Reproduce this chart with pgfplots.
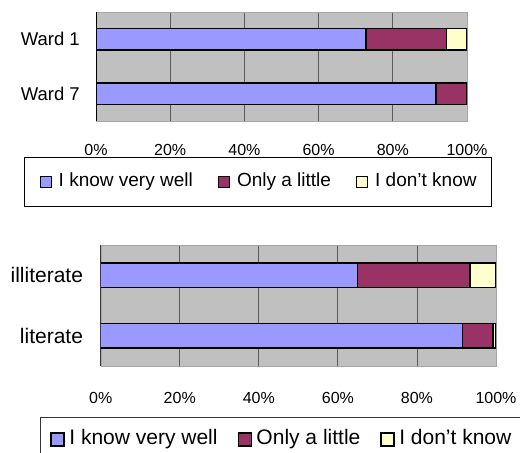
\documentclass[border=0pt]{standalone}
\usepackage{pgfplots}
\pgfplotsset{compat=1.18}
\usepackage{fontspec}
\setmainfont{Liberation Sans}

\definecolor{wellc}{RGB}{153,153,255}
\definecolor{littlec}{RGB}{153,51,102}
\definecolor{dontc}{RGB}{255,255,204}
\definecolor{plotbg}{RGB}{192,192,192}
\definecolor{gridc}{RGB}{90,90,90}

\pgfplotsset{
  surveybars/.style={
    xbar stacked,
    scale only axis,
    xmin=0, xmax=100,
    ymin=-0.5, ymax=1.5,
    bar width=0.4,
    axis background/.style={fill=plotbg},
    axis line style={draw=gray!70},
    xtick={0,20,40,60,80,100},
    xticklabels={0\%,20\%,40\%,60\%,80\%,100\%},
    xmajorgrids,
    major grid style={draw=gridc, line width=0.8bp},
    xtick style={draw=none},
    ytick={0,1},
    ytick style={draw=none},
    minor ytick={0.5},
    minor tick style={draw=black, line width=0.8bp},
    minor tick length=5bp,
    ytick pos=left,
    tick align=inside,
    /pgf/number format/assume math mode=true,
    tick label style={inner sep=0bp},
    xticklabel style={font=\fontsize{16bp}{19bp}\selectfont, anchor=north},
    legend columns=3,
    legend cell align=left,
    every axis plot post/.append style={draw=black, line width=1.5bp},
  },
  sq/.style={
    draw=black, line width=1.5bp,
    legend image code/.code={%
      \draw[##1, draw=black, line width=1.2bp] (0bp,-5.5bp) rectangle (11bp,5.5bp);}
  },
  sqb/.style={
    draw=black, line width=1.5bp,
    legend image code/.code={%
      \draw[##1, draw=black, line width=1.4bp] (0bp,-6.5bp) rectangle (13bp,6.5bp);}
  },
}

\begin{document}
\begin{tikzpicture}
\path[use as bounding box] (0,0) rectangle (520bp,453bp);
\clip (0,0) rectangle (520bp,453bp);

% Ward comparison
\begin{axis}[
  surveybars,
  at={(96bp,441bp)}, anchor=north west,
  width=371bp, height=109bp,
  yticklabels={Ward 7, Ward 1},
  yticklabel style={font=\fontsize{18.5bp}{22bp}\selectfont, anchor=east, xshift=-16bp},
  xticklabel style={yshift=-23bp},
  legend style={
    at={(axis description cs:-0.194,-0.33)}, anchor=north west,
    draw=black, line width=1bp, fill=white,
    inner xsep=15bp, inner ysep=15.5bp,
    font=\fontsize{19bp}{23bp}\selectfont,
    nodes={inner sep=0bp, text height=14bp, text depth=4bp},
    /tikz/every odd column/.append style={column sep=7bp},
    /tikz/every even column/.append style={column sep=25bp},
  },
]
\addplot[sq, fill=wellc]   coordinates {(72.8,1) (91.6,0)};
\addplot[sq, fill=littlec] coordinates {(21.7,1) (8.4,0)};
\addplot[sq, fill=dontc]   coordinates {(5.5,1) (0,0)};
\legend{I know very well, Only a little, I don't know}
\draw[black, line width=1bp] (rel axis cs:0,0) -- (rel axis cs:0,1);
\end{axis}

% Literacy comparison
\begin{axis}[
  surveybars,
  at={(100.7bp,208bp)}, anchor=north west,
  width=395.3bp, height=121bp,
  yticklabels={literate, illiterate},
  yticklabel style={font=\fontsize{21bp}{25bp}\selectfont, anchor=east, xshift=-17.5bp},
  xticklabel style={yshift=-26bp},
  legend style={
    at={(axis description cs:-0.1536,-0.4215)}, anchor=north west,
    draw=gray!40!black, line width=1bp, fill=white,
    inner xsep=10bp, inner ysep=12bp,
    font=\fontsize{21bp}{25bp}\selectfont,
    nodes={inner sep=0bp, text height=15.5bp, text depth=4.5bp},
    /tikz/every odd column/.append style={column sep=4.5bp},
    /tikz/every even column/.append style={column sep=20bp},
  },
]
\addplot[sqb, fill=wellc]   coordinates {(64.9,1) (91.5,0)};
\addplot[sqb, fill=littlec] coordinates {(28.5,1) (7.7,0)};
\addplot[sqb, fill=dontc]   coordinates {(6.6,1) (0.8,0)};
\legend{I know very well, Only a little, I don't know}
\draw[black, line width=1bp] (rel axis cs:0,0) -- (rel axis cs:0,1);
\end{axis}
\end{tikzpicture}
\end{document}
